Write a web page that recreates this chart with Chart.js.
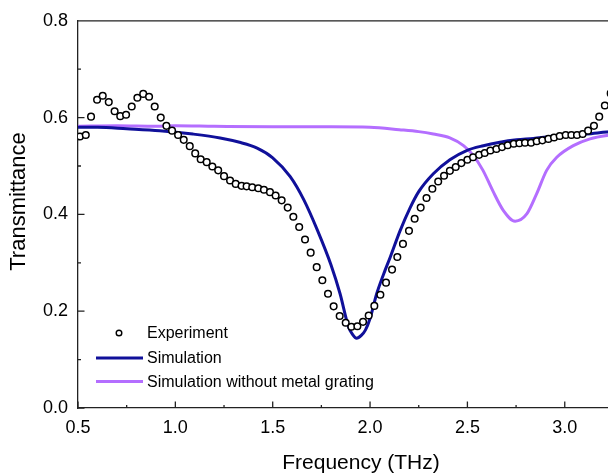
<!DOCTYPE html>
<html>
<head>
<meta charset="utf-8">
<script src="https://cdn.jsdelivr.net/npm/chart.js@4.4.0/dist/chart.umd.min.js"></script>
<style>
  html, body { margin: 0; padding: 0; background: #fff; overflow: hidden; }
  #wrap { width: 680px; height: 474px; }
</style>
</head>
<body>
<div id="wrap"><canvas id="myChart" width="680" height="474"></canvas></div>
<script>
// experiment (circles)
const expFreq = [0.51,0.54,0.567,0.598,0.627,0.658,0.688,0.717,0.747,0.776,0.805,0.835,0.865,0.894,0.925,0.954,0.983,1.014,1.043,1.074,
  1.102,1.13,1.161,1.19,1.22,1.25,1.281,1.31,1.34,1.366,1.395,1.426,1.455,1.486,1.515,1.546,1.577,1.606,1.636,1.666,
  1.695,1.726,1.755,1.784,1.813,1.844,1.875,1.904,1.935,1.964,1.993,2.022,2.053,2.082,2.113,2.14,2.169,2.2,2.229,2.26,
  2.29,2.32,2.35,2.38,2.41,2.44,2.469,2.5,2.529,2.56,2.589,2.618,2.649,2.678,2.707,2.738,2.767,2.796,2.827,2.856,
  2.885,2.916,2.945,2.974,3.005,3.034,3.063,3.092,3.12,3.15,3.177,3.206,3.236];
const expTrans = [0.561,0.564,0.602,0.637,0.645,0.632,0.613,0.603,0.606,0.623,0.641,0.649,0.643,0.623,0.600,0.583,0.573,0.564,0.554,0.541,
  0.526,0.514,0.508,0.499,0.491,0.479,0.470,0.463,0.459,0.458,0.456,0.454,0.451,0.446,0.439,0.429,0.414,0.395,0.374,0.348,
  0.321,0.291,0.264,0.236,0.210,0.190,0.176,0.168,0.169,0.178,0.191,0.211,0.234,0.259,0.286,0.312,0.339,0.366,0.391,0.414,
  0.434,0.453,0.468,0.480,0.490,0.498,0.506,0.513,0.518,0.523,0.527,0.532,0.535,0.539,0.543,0.546,0.547,0.548,0.548,0.551,
  0.553,0.556,0.559,0.562,0.564,0.564,0.564,0.566,0.573,0.583,0.602,0.625,0.650];

// simulation
const simFreq = [0.5,0.6,0.75,0.92,1.09,1.23,1.33,1.42,1.5,1.59,1.66,1.73,1.8,1.846,1.889,1.91,1.931,1.955,1.976,2.0,
  2.034,2.07,2.104,2.154,2.205,2.25,2.325,2.41,2.496,2.582,2.667,2.753,2.839,2.924,3.01,3.113,3.216,3.41];
const simTrans = [0.580,0.580,0.577,0.573,0.566,0.558,0.549,0.537,0.517,0.478,0.430,0.367,0.295,0.236,0.168,0.152,0.144,0.150,0.161,0.185,
  0.236,0.277,0.312,0.366,0.413,0.447,0.484,0.513,0.532,0.542,0.549,0.554,0.557,0.561,0.564,0.566,0.570,0.575];

// simulation without metal grating
const refFreq = [0.5,0.7,0.9,1.0,1.2,1.5,1.8,2.0,2.15,2.25,2.325,2.41,2.48,2.53,2.58,2.63,2.685,2.745,2.805,2.856,
  2.907,2.959,3.044,3.13,3.216,3.41];
const refTrans = [0.582,0.583,0.582,0.583,0.582,0.581,0.581,0.580,0.575,0.571,0.566,0.558,0.542,0.522,0.491,0.449,0.408,0.386,0.401,0.443,
  0.491,0.518,0.542,0.556,0.563,0.570];

const xTicks = [0.5,0.75,1.0,1.25,1.5,1.75,2.0,2.25,2.5,2.75,3.0,3.25];
const yTicks = [0.0,0.1,0.2,0.3,0.4,0.5,0.6,0.7,0.8];
const labels = ['Experiment', 'Simulation', 'Simulation without metal grating'];

const FONT = 'Liberation Sans, Arial, sans-serif';
const AXIS = '#222';
const BLUE = '#10109a';
const PURPLE = '#b46eff';

function pairs(xs, ys) {
  return xs.map((x, i) => ({ x: x, y: ys[i] }));
}

function isMajor(v, step) {
  const r = v / step;
  return Math.abs(r - Math.round(r)) < 1e-6;
}

// inward ticks, top frame, legend and axis titles
const decor = {
  id: 'decor',
  afterDraw(chart) {
    const ctx = chart.ctx;
    const a = chart.chartArea;
    const xs = chart.scales.x, ys = chart.scales.y;
    ctx.save();
    ctx.strokeStyle = AXIS;
    ctx.lineWidth = 1.3;
    ctx.beginPath();
    ctx.moveTo(a.left, a.top);
    ctx.lineTo(a.right, a.top);
    xTicks.forEach(v => {
      const px = xs.getPixelForValue(v);
      const len = isMajor(v, 0.5) ? 6.5 : 3;
      ctx.moveTo(px, a.bottom);
      ctx.lineTo(px, a.bottom - len);
    });
    yTicks.forEach(v => {
      const py = ys.getPixelForValue(v);
      const len = isMajor(v, 0.2) ? 6.5 : 3;
      ctx.moveTo(a.left, py);
      ctx.lineTo(a.left + len, py);
    });
    ctx.stroke();

    // legend
    const ds = chart.data.datasets;
    ctx.font = '16px ' + FONT;
    ctx.textBaseline = 'middle';
    ctx.textAlign = 'left';
    const rows = [333, 358, 381.5];
    ctx.beginPath();
    ctx.arc(119, rows[0], 2.8, 0, Math.PI * 2);
    ctx.fillStyle = '#fff';
    ctx.fill();
    ctx.lineWidth = 1.4;
    ctx.strokeStyle = '#000';
    ctx.stroke();
    for (let i = 1; i < 3; i++) {
      ctx.beginPath();
      ctx.strokeStyle = ds[i].borderColor;
      ctx.lineWidth = 3;
      ctx.moveTo(96, rows[i]);
      ctx.lineTo(143, rows[i]);
      ctx.stroke();
    }
    ctx.fillStyle = '#000';
    ds.forEach((d, i) => ctx.fillText(d.label, 147, rows[i] + 1));

    // axis titles
    ctx.font = '21px ' + FONT;
    ctx.textAlign = 'center';
    ctx.textBaseline = 'alphabetic';
    ctx.fillText('Frequency (THz)', (a.left + a.right) / 2, 469);
    ctx.translate(25, 201.5);
    ctx.rotate(-Math.PI / 2);
    ctx.font = '22px ' + FONT;
    ctx.fillText('Transmittance', 0, 0);
    ctx.restore();
  }
};

const ctx = document.getElementById('myChart').getContext('2d');
const myChart = new Chart(ctx, {
  type: 'line',
  data: {
    datasets: [{
      label: labels[0],
      data: pairs(expFreq, expTrans),
      showLine: false,
      pointRadius: 3.3,
      pointBorderWidth: 1.5,
      pointBorderColor: '#000',
      pointBackgroundColor: '#fff',
      borderColor: '#000'
    }, {
      label: labels[1],
      data: pairs(simFreq, simTrans),
      borderColor: BLUE,
      borderWidth: 3,
      pointRadius: 0,
      cubicInterpolationMode: 'monotone'
    }, {
      label: labels[2],
      data: pairs(refFreq, refTrans),
      borderColor: PURPLE,
      borderWidth: 3,
      pointRadius: 0,
      cubicInterpolationMode: 'monotone'
    }]
  },
  options: {
    responsive: false,
    animation: false,
    layout: { padding: { top: 20, right: 36, left: 0, bottom: 0 } },
    plugins: { legend: { display: false }, tooltip: { enabled: false } },
    scales: {
      x: {
        type: 'linear',
        min: 0.5,
        max: 3.407,
        afterFit: s => { s.height = 66; },
        grid: { display: false, drawTicks: false },
        border: { display: true, color: AXIS, width: 1.3 },
        ticks: {
          stepSize: 0.25,
          autoSkip: false,
          maxRotation: 0,
          padding: 9,
          color: '#000',
          font: { family: FONT, size: 18 },
          callback: v => isMajor(v, 0.5) ? v.toFixed(1) : ''
        }
      },
      y: {
        min: 0,
        max: 0.8,
        afterFit: s => { s.width = 78; },
        grid: { display: false, drawTicks: false },
        border: { display: true, color: AXIS, width: 1.3 },
        ticks: {
          stepSize: 0.1,
          padding: 10,
          color: '#000',
          font: { family: FONT, size: 18 },
          callback: v => isMajor(v, 0.2) ? v.toFixed(1) : ''
        }
      }
    }
  },
  plugins: [decor]
});
</script>
</body>
</html>
